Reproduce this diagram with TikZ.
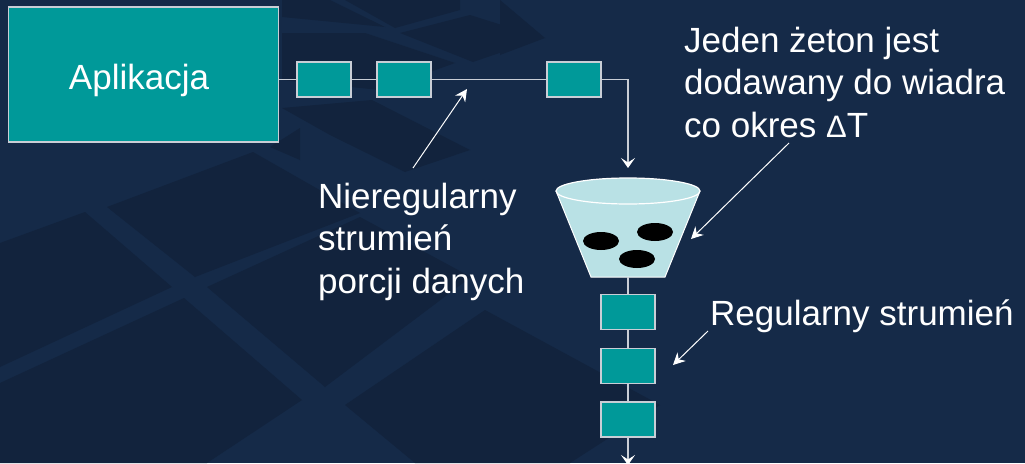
\documentclass[tikz,border=0pt]{standalone}
\usepackage{fontspec}
\setmainfont{Liberation Sans}
\usetikzlibrary{arrows.meta,shapes.geometric}
\definecolor{bgband}{HTML}{152A48}
\definecolor{bgcell}{HTML}{12233D}
\definecolor{tealbox}{HTML}{009999}
\definecolor{bucketfill}{HTML}{B9E1E5}
\definecolor{wire}{HTML}{C9CED6}
\tikzset{
  packet/.style={draw=wire, line width=1.2pt, fill=tealbox, minimum width=54pt, minimum height=35pt, inner sep=0pt},
  wireline/.style={draw=wire, line width=1.4pt},
  flowarrow/.style={wireline, -{Stealth[length=10pt,width=14pt,inset=4.5pt,color=white]}},
  notearrow/.style={draw=white, line width=1pt, -{Stealth[length=12pt,width=12pt,inset=4pt]}},
  notetext/.style={text=white, font=\fontsize{35}{42.5}\selectfont, inner sep=0pt, align=left, anchor=base west},
  token/.style={ellipse, fill=black, draw=none, inner sep=0pt, minimum width=36pt, minimum height=18pt},
  gridcell/.style={fill=bgcell},
}
\begin{document}
\begin{tikzpicture}[x=1pt, y=-1pt]
  % backdrop with faint perspective grid
  \fill[bgband] (0,0) rectangle (1025,463);
  \useasboundingbox (0,0) rectangle (1025,463);
  \fill[gridcell] (0,243) -- (85,212) -- (172,287) -- (0,367) -- cycle;
  \fill[gridcell] (107,207) -- (253,152) -- (360,213) -- (195,277) -- cycle;
  \fill[gridcell] (0,383) -- (184,298) -- (302,400) -- (207,463) -- (0,463) -- cycle;
  \fill[gridcell] (207,287) -- (360,217) -- (471,277) -- (325,387) -- cycle;
  \fill[gridcell] (345,405) -- (485,310) -- (660,405) -- (570,463) -- (415,463) -- cycle;
  \fill[gridcell] (270,147) -- (300,128) -- (300,160) -- cycle;
  \fill[gridcell] (282,0) -- (330,0) -- (385,27) -- (282,17) -- cycle;
  \fill[gridcell] (345,0) -- (460,0) -- (460,10) -- (395,28) -- cycle;
  \fill[gridcell] (400,33) -- (470,15) -- (543,38) -- (473,62) -- cycle;
  \fill[gridcell] (282,33) -- (365,33) -- (455,63) -- (380,90) -- (282,80) -- cycle;
  \fill[gridcell] (282,108) -- (372,100) -- (470,150) -- (405,172) -- (330,135) -- cycle;
  \fill[gridcell] (500,0) -- (545,38) -- (500,55) -- cycle;

  % application and packet queue
  \node[draw=wire, line width=1.2pt, fill=tealbox, minimum width=270pt, minimum height=135pt,
        text=white, font=\fontsize{35}{42}\selectfont, text height=29pt, text depth=0pt]
        (app) at (143.5,74.5) {\kern-9pt Aplikacja};
  \node[packet] (p1) at (324,79.5) {};
  \node[packet] (p2) at (404,79.5) {};
  \node[packet] (p3) at (574,79.5) {};
  \coordinate (inlet) at (628,168);
  \draw[wireline] (app.east |- p1.west) -- (p1.west);
  \draw[wireline] (p1.east) -- (p2.west);
  \draw[wireline] (p2.east) -- (p3.west);
  \draw[flowarrow] (p3.east) -| (inlet);

  % token bucket
  \coordinate (bucketbottom) at (628,277);
  \fill[bucketfill] (556,191) -- (700,191) -- (665,277) -- (591,277) -- cycle;
  \draw[white, line width=1pt] (556,191) -- (591,277) -- (665,277) -- (700,191);
  \draw[white, line width=1.2pt, fill=bucketfill] (628,191) ellipse [x radius=72, y radius=13];
  \node[token] (t1) at (601,241) {};
  \node[token] (t2) at (655,232) {};
  \node[token] (t3) at (637,259) {};

  % regulated output stream
  \node[packet] (q1) at (628,312) {};
  \node[packet] (q2) at (628,366) {};
  \node[packet] (q3) at (628,419.5) {};
  \coordinate (outlet) at (628,465);
  \draw[wireline] (bucketbottom) -- (q1.north);
  \draw[wireline] (q1.south) -- (q2.north);
  \draw[wireline] (q2.south) -- (q3.north);
  \draw[flowarrow] (q3.south) -- (outlet);

  % annotations (anchored at the baseline of the last line)
  \node[notetext] (irr) at (318,293) {Nieregularny\\strumień\\porcji danych};
  \node[notetext] (tok) at (684,137) {Jeden żeton jest\\dodawany do wiadra\\co okres {\fontsize{31}{42}\selectfont Δ}T};
  \node[notetext] (reg) at (710,325) {Regularny strumień};
  \coordinate (irrtail) at (413,168);
  \coordinate (irrtip) at (467,89);
  \coordinate (toktail) at (789,143);
  \coordinate (toktip) at (691,239);
  \coordinate (regtail) at (708,331);
  \coordinate (regtip) at (673,365);
  \draw[notearrow] (irrtail) -- (irrtip);
  \draw[notearrow] (toktail) -- (toktip);
  \draw[notearrow] (regtail) -- (regtip);
\end{tikzpicture}
\end{document}
